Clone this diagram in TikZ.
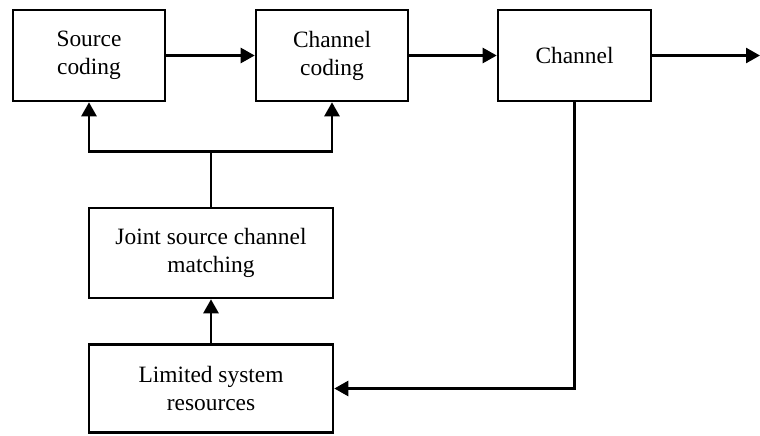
\documentclass[tikz,border=0pt]{standalone}
\usepackage{fontspec}
\setmainfont{Liberation Serif}
\usetikzlibrary{arrows.meta}
\begin{document}
\begin{tikzpicture}[x=1pt,y=-1pt,
  blk/.style={draw,line width=2.6pt,minimum width=152pt,minimum height=91pt,
    inner sep=0pt,align=center,font=\fontsize{23.4}{28}\selectfont},
  wide/.style={blk,minimum width=244pt,minimum height=90pt},
  link/.style={line width=2.6pt},
  arr/.style={link,-{Triangle[length=14pt,width=15pt]}}]
\useasboundingbox (0,0) rectangle (760,436);
% top row: coders and channel
\node[blk] (src) at (89,55.5) {Source\\coding};
\node[blk] (cc) at (332,55.5) {Channel\\coding};
\node[blk,minimum width=153pt] (ch) at (574.5,55.5) {Channel};
% lower column
\node[wide] (jscm) at (211,253) {Joint source channel\\matching};
\node[wide,minimum height=88pt] (lsr) at (211,388.5) {Limited system\\resources};
\coordinate (out) at (760,55.5);
% forward chain
\draw[arr] (src) -- (cc);
\draw[arr] (cc) -- (ch);
\draw[arr] (ch) -- (out);
% control feedback from the matcher to both coders
\draw[link] (jscm.north) -- ++(0,-55) coordinate (fork);
\draw[arr] (fork) -| (src.south);
\draw[arr] (fork) -| (cc.south);
% channel state back to the resource block
\draw[arr] (ch.south) |- (lsr.east);
\draw[arr] (lsr) -- (jscm);
\end{tikzpicture}
\end{document}
